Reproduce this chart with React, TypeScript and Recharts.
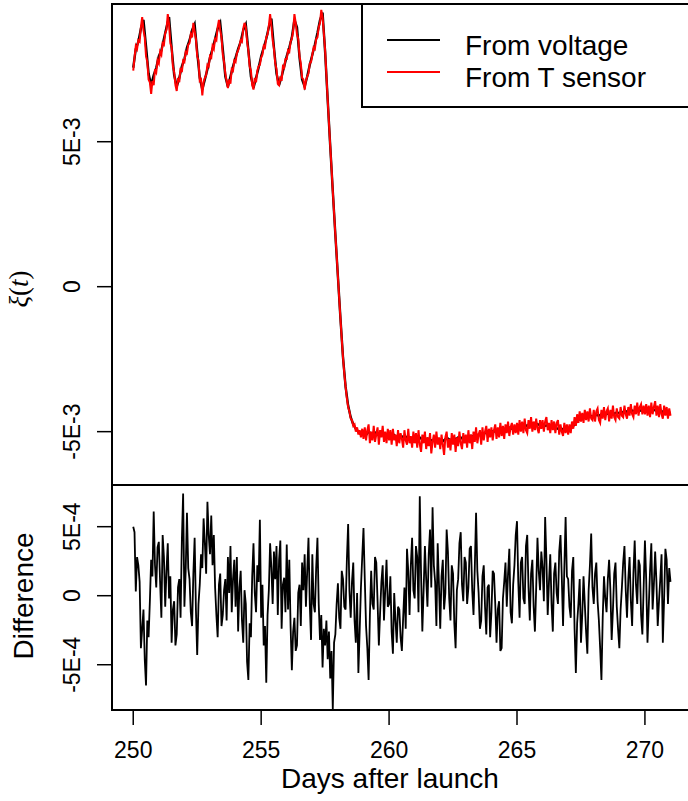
import { LineChart, Line, XAxis, YAxis, Label } from "recharts";

const FONT = "'Liberation Sans', Arial, Helvetica, sans-serif";
const SERIF = "'Liberation Serif', 'DejaVu Serif', serif";

// readings start at day 250; voltage every 0.1 day, T sensor and difference every 0.05 day
const DAY0 = 250;
const COARSE = 0.1;
const FINE = 0.05;

// xi(t) from voltage, units of 1E-3 (0.1 day steps)
const voltage = [
  7.55, 8.2, 8.45, 8.9, 9.2, 8.3, 7.35, 6.95, 7.3, 7.55,
  7.95, 8.15, 8.55, 8.95, 9.3, 8.25, 7.3, 6.9, 7.2, 7.6,
  7.85, 8.25, 8.5, 8.85, 9.05, 8.1, 7.2, 6.8, 7.15, 7.5,
  7.9, 8.2, 8.55, 8.9, 9.1, 8.2, 7.25, 6.9, 7.25, 7.6,
  7.9, 8.2, 8.45, 8.85, 9.05, 8.15, 7.25, 6.85, 7.2, 7.55,
  7.95, 8.25, 8.55, 8.95, 9.25, 8.25, 7.35, 6.95, 7.25, 7.6,
  7.95, 8.25, 8.6, 9.2, 8.95, 7.9, 7.15, 6.9, 7.25, 7.65,
  8.0, 8.35, 8.75, 9.2, 9.45, 8.1, 6.45, 4.85, 3.3, 1.8,
  0.35, -1.1, -2.45, -3.45, -4.1, -4.5, -4.75, -4.9, -5.0, -5.1,
  -5.05, -5.12, -5.0, -5.08, -5.1, -5.02, -5.14, -5.06, -5.1, -5.16,
  -5.1, -5.18, -5.12, -5.2, -5.14, -5.16, -5.22, -5.18, -5.2, -5.24,
  -5.22, -5.26, -5.2, -5.28, -5.3, -5.24, -5.27, -5.32, -5.25, -5.3,
  -5.28, -5.33, -5.26, -5.24, -5.3, -5.22, -5.26, -5.2, -5.24, -5.18,
  -5.2, -5.16, -5.14, -5.18, -5.1, -5.12, -5.06, -5.08, -5.02, -5.05,
  -5.0, -4.98, -5.02, -4.94, -4.96, -4.9, -4.94, -4.86, -4.9, -4.84,
  -4.86, -4.82, -4.8, -4.84, -4.78, -4.8, -4.76, -4.78, -4.74, -4.78,
  -4.76, -4.8, -4.78, -4.82, -4.84, -4.86, -4.9, -4.88, -4.92, -4.9,
  -4.94, -4.88, -4.8, -4.7, -4.6, -4.55, -4.52, -4.5, -4.48, -4.46,
  -4.48, -4.42, -4.45, -4.4, -4.42, -4.38, -4.4, -4.36, -4.38, -4.34,
  -4.36, -4.32, -4.34, -4.3, -4.32, -4.27, -4.3, -4.25, -4.28, -4.26,
  -4.24, -4.27, -4.22, -4.28, -4.25, -4.3, -4.26, -4.32, -4.3, -4.36,
  -4.35,
];

// xi(t) from T sensor, units of 1E-3 (0.05 day steps)
const tSensor = [
  7.45, 7.9, 8.3, 8.2, 8.5, 8.45, 8.95, 9.3, 8.85, 8.6, 7.95, 7.75, 7.15, 7.05, 6.65, 7.1, 6.95, 7.5, 7.4, 7.8,
  7.7, 8.1, 8.0, 8.4, 8.35, 8.75, 8.85, 9.4, 9.05, 8.4, 8.25, 7.6, 7.4, 6.95, 6.75, 7.2, 7.05, 7.55, 7.4, 7.8,
  7.75, 8.1, 8.05, 8.35, 8.4, 8.7, 8.6, 9.1, 8.8, 8.55, 7.95, 7.8, 7.1, 7.15, 6.6, 7.05, 7.2, 7.3, 7.65, 7.6,
  7.95, 7.9, 8.3, 8.2, 8.55, 8.5, 8.95, 9.2, 8.85, 8.6, 8.0, 7.75, 7.35, 7.1, 6.85, 7.15, 7.0, 7.5, 7.45, 7.8,
  7.75, 8.05, 8.15, 8.3, 8.5, 8.45, 8.9, 9.1, 8.95, 8.45, 8.15, 7.6, 7.45, 6.95, 6.8, 7.2, 7.05, 7.45, 7.6, 7.65,
  7.9, 8.0, 8.3, 8.25, 8.6, 8.7, 9.0, 9.4, 9.0, 8.5, 8.2, 7.7, 7.5, 7.0, 6.95, 7.25, 7.1, 7.6, 7.55, 7.85,
  7.85, 8.15, 8.1, 8.45, 8.55, 8.8, 9.4, 9.1, 8.7, 8.55, 7.95, 7.7, 7.2, 7.15, 6.8, 7.1, 7.25, 7.35, 7.7, 7.75,
  8.0, 8.25, 8.2, 8.55, 8.6, 8.95, 9.1, 9.55, 9.3, 8.75, 8.15, 7.3, 6.45, 5.65, 4.85, 4.1, 3.3, 2.55, 1.8, 1.1,
  0.35, -0.4, -1.1, -1.8, -2.45, -3.0, -3.45, -3.85, -4.15, -4.3, -4.55, -4.6, -4.8, -4.75, -5.0, -4.85, -5.1, -4.95, -5.2, -4.9,
  -5.25, -4.85, -5.3, -4.95, -4.75, -5.4, -5.0, -5.3, -4.8, -5.35, -5.1, -4.85, -5.45, -4.95, -5.2, -4.8, -5.35, -5.0, -5.4, -4.9,
  -5.3, -4.95, -5.45, -4.9, -5.3, -5.1, -5.5, -4.95, -5.4, -5.05, -5.25, -5.55, -4.95, -5.3, -5.45, -4.9, -5.4, -5.15, -5.55, -5.0,
  -5.4, -5.05, -5.55, -4.95, -5.45, -5.7, -5.1, -5.4, -5.0, -5.6, -5.2, -5.5, -5.05, -5.75, -5.35, -5.1, -5.55, -5.0, -5.45, -5.2,
  -5.6, -5.1, -5.45, -5.8, -5.2, -5.0, -5.55, -5.25, -5.65, -5.05, -5.45, -5.1, -5.7, -5.2, -5.5, -5.0, -5.4, -5.6, -5.05, -5.4,
  -5.1, -5.55, -4.95, -5.4, -5.1, -5.6, -5.0, -5.35, -4.85, -5.4, -5.1, -4.95, -5.45, -4.85, -5.3, -5.0, -4.8, -5.35, -4.9, -5.2,
  -4.85, -5.3, -4.95, -4.75, -5.25, -4.85, -5.2, -4.7, -5.15, -4.8, -5.25, -4.75, -5.05, -4.65, -5.15, -4.85, -4.7, -5.1, -4.75, -5.05,
  -4.7, -5.1, -4.6, -5.0, -4.65, -5.05, -4.55, -4.95, -5.05, -4.6, -4.9, -4.5, -5.0, -4.65, -4.95, -4.55, -4.9, -5.05, -4.6, -4.9,
  -4.6, -5.0, -4.65, -4.5, -4.95, -4.7, -5.05, -4.6, -4.95, -4.65, -5.05, -4.7, -4.6, -5.1, -4.75, -5.0, -5.15, -4.7, -5.05, -4.75,
  -5.1, -4.75, -5.05, -4.65, -4.9, -4.5, -4.8, -4.4, -4.7, -4.3, -4.65, -4.35, -4.7, -4.25, -4.6, -4.3, -4.65, -4.2, -4.55, -4.6,
  -4.25, -4.65, -4.3, -4.2, -4.6, -4.7, -4.25, -4.55, -4.15, -4.6, -4.3, -4.2, -4.65, -4.25, -4.55, -4.1, -4.5, -4.6, -4.2, -4.5,
  -4.55, -4.15, -4.45, -4.5, -4.1, -4.4, -4.55, -4.15, -4.45, -4.05, -4.4, -4.5, -4.1, -4.4, -4.0, -4.45, -4.15, -4.05, -4.4, -4.1,
  -4.4, -4.05, -4.45, -4.1, -4.5, -4.0, -4.4, -4.15, -3.95, -4.45, -4.1, -4.5, -4.05, -4.4, -4.55, -4.1, -4.45, -4.15, -4.55, -4.2,
  -4.45,
];

// voltage minus T sensor, units of 1E-4 (0.05 day steps)
const difference = [
  5.0, 4.6, 0.3, 2.8, 2.2, 1.0, -3.8, -2.4, -1.0, -4.6, -6.5, -1.8, -3.0, -0.4, 2.6, 1.4, 6.1, 2.2, 0.6, 3.5,
  3.9, 1.0, -1.6, 4.4, 2.8, -0.8, 1.8, 3.8, -0.2, 1.4, -3.4, -1.0, -0.4, -3.6, -2.8, 0.6, 1.2, -1.6, 4.0, 7.4,
  -0.8, 1.8, 6.0, 2.0, 1.2, -1.2, -2.2, 1.6, 4.2, -1.0, -4.3, -0.6, 0.8, 3.0, 2.0, 5.6, 3.8, 1.6, 6.8, 4.4,
  3.0, 5.8, 2.2, 4.4, 0.6, -1.4, -3.0, 0.8, 1.6, -2.2, -1.4, 0.4, 1.2, -1.8, 2.8, 0.2, 3.6, -1.2, 1.2, 2.6,
  -0.8, 2.8, -2.6, 0.6, 1.8, -1.8, -3.4, 0.4, -0.6, -4.8, -6.1, -2.0, -3.0, 1.4, 3.8, 0.2, -1.2, 2.2, 1.0, 5.5,
  -1.6, 0.8, -3.6, -2.2, -6.3, -1.4, 0.4, 3.8, 2.0, -0.6, 3.2, 1.2, 3.6, -1.4, 2.6, 4.0, -2.4, 0.8, 1.3, -1.2,
  3.7, -1.0, 2.6, -2.2, -5.4, -2.6, -1.6, -4.0, -3.6, 0.2, 0.8, -2.2, 2.4, 0.4, 3.0, -0.8, 1.8, 4.2, -0.6, -3.2,
  3.0, -0.6, -1.2, 2.0, 4.2, -0.6, -3.2, -1.4, -5.2, -2.4, -3.6, -1.8, -4.6, -2.6, -6.0, -4.0, -8.2, -3.4, -2.8, -0.6,
  0.9, -1.6, -2.4, 1.8, 1.2, -0.8, -1.0, 2.6, 5.2, 0.4, -1.6, 1.0, 2.4, -1.8, -3.4, 0.2, -5.6, -2.6, 0.6, 2.8,
  4.9, 1.2, -2.2, -3.8, -6.1, -1.4, 1.8, -0.6, -1.0, 2.8, 2.4, -0.4, -3.6, -1.2, 1.0, 2.2, -1.8, 0.4, 2.6, -0.8,
  -0.6, 1.4, -2.6, -4.2, 0.2, -1.8, -3.4, -0.8, -1.0, -3.0, -4.0, -1.6, 0.6, -2.4, 3.4, 1.8, -1.4, 2.2, 4.2, 0.4,
  -0.2, 3.6, 2.8, -1.2, 7.2, 1.6, -2.6, 0.4, 3.6, 1.2, -0.8, 3.0, 4.8, 0.6, 6.4, 2.2, 1.0, -2.2, 3.8, 0.8,
  -2.4, 1.4, 2.6, -1.0, 0.2, 4.8, 3.2, -0.2, -1.8, 2.2, 1.6, -2.0, -3.8, 0.4, 1.2, 3.8, 4.6, 0.8, -0.4, 2.8,
  2.4, -0.6, 0.6, 3.4, 3.6, 0.4, -1.4, 2.0, 6.0, 1.8, 0.2, -2.4, -1.8, 1.4, 2.2, -0.8, -2.8, 0.6, 0.8, -3.0,
  -1.2, 1.8, 1.6, -0.6, -3.4, -1.0, -0.4, -4.0, -3.8, -0.2, 1.0, 2.4, -0.8, 1.6, 3.4, -1.2, -2.0, 0.8, 2.2, 4.4,
  5.4, 1.0, -1.6, 2.4, 2.8, -0.2, -0.6, 3.6, 4.4, 0.6, -1.8, 1.6, 2.6, -0.8, -2.6, 0.6, 4.2, 1.8, 0.4, 3.2,
  2.0, -0.4, 5.7, 2.6, -1.4, 1.0, 3.0, -0.6, -2.6, 1.6, 2.4, 0.2, -0.6, 3.2, 4.4, 1.4, -2.2, 2.0, 5.7, 1.4,
  1.2, -0.8, -1.6, 1.8, 2.8, -2.4, -5.6, -2.0, -0.6, 1.2, -3.4, -1.4, 1.4, -0.6, -2.6, -4.2, 0.4, 2.2, 4.5, 0.6,
  -0.6, 1.6, 2.4, -0.4, -1.8, -3.8, -6.1, -1.6, 1.4, -0.2, -1.2, 1.2, 2.6, 0.4, -3.2, -1.0, 1.6, 2.4, -0.8, -2.4,
  -3.8, -1.0, 0.6, 2.4, 3.6, 0.4, -1.6, 1.2, 2.8, -0.4, -2.2, 1.6, 4.0, 0.8, -0.6, 2.6, 2.2, -1.4, -2.8, 0.6,
  4.0, 1.2, -3.4, -0.8, 1.8, 3.8, -1.0, 0.8, 3.2, 1.0, -2.2, -0.4, 1.2, 3.0, -3.4, -0.2, 3.4, 2.6, -0.6, 2.0,
  1.0,
];

const xTicks = [250, 255, 260, 265, 270];
const xiTicks = [-5, 0, 5];
const diffTicks = [-5, 0, 5];

const X_DOMAIN: [number, number] = [249.17, 271.84];
const XI_DOMAIN: [number, number] = [-6.84, 9.75];
const DIFF_DOMAIN: [number, number] = [-8.28, 8.02];

const dayAt = (i: number, step: number) => Math.round((DAY0 + i * step) * 100) / 100;

const voltageRows = voltage.map((v, i) => ({ day: dayAt(i, COARSE), v }));
const sensorRows = tSensor.map((v, i) => ({ day: dayAt(i, FINE), v }));
const diffRows = difference.map((v, i) => ({ day: dayAt(i, FINE), v }));

const fmtExp = (exp: number) => (v: number) => (v === 0 ? "0" : `${v}E-${exp}`);

function YTick(props: any) {
  const { y, payload, fmt } = props;
  const bx = 80;
  return (
    <text
      x={bx}
      y={y}
      transform={`rotate(-90 ${bx} ${y})`}
      textAnchor="middle"
      fontSize={23}
      fontFamily={FONT}
      fill="#000"
    >
      {fmt(payload.value)}
    </text>
  );
}

function XTick(props: any) {
  const { x, y, payload } = props;
  return (
    <text x={x} y={y + 33} textAnchor="middle" fontSize={23} fontFamily={FONT} fill="#000">
      {payload.value}
    </text>
  );
}

const tickStroke = { stroke: "#000", strokeWidth: 1.5 };

export default function App() {
  return (
    <div
      style={{
        position: "absolute",
        left: 0,
        top: 0,
        width: 688,
        height: 801,
        overflow: "hidden",
        background: "#fff",
      }}
    >
      <div style={{ position: "absolute", left: 0, top: 0 }}>
        <LineChart width={692} height={485} margin={{ top: 4, right: 0, bottom: 0, left: 0 }}>
          <XAxis dataKey="day" type="number" domain={X_DOMAIN} allowDataOverflow hide />
          <YAxis
            type="number"
            domain={XI_DOMAIN}
            ticks={xiTicks}
            allowDataOverflow
            width={112}
            axisLine={false}
            tickLine={tickStroke}
            tickSize={15}
            tick={(p: any) => <YTick {...p} fmt={fmtExp(3)} />}
          >
            <Label
              content={() => (
                <text
                  x={28}
                  y={289}
                  transform="rotate(-90 28 289)"
                  textAnchor="middle"
                  fontSize={27}
                  fontFamily={SERIF}
                  fill="#000"
                >
                  <tspan fontStyle="italic">ξ</tspan>(<tspan fontStyle="italic">t</tspan>)
                </text>
              )}
            />
          </YAxis>
          <Line
            data={voltageRows}
            type="linear"
            dataKey="v"
            name="From voltage"
            stroke="#000"
            strokeWidth={2.4}
            dot={false}
            isAnimationActive={false}
          />
          <Line
            data={sensorRows}
            type="linear"
            dataKey="v"
            name="From T sensor"
            stroke="#ff0000"
            strokeWidth={2}
            dot={false}
            isAnimationActive={false}
          />
        </LineChart>
      </div>

      <div style={{ position: "absolute", left: 0, top: 485 }}>
        <LineChart width={692} height={316} data={diffRows} margin={{ top: 0, right: 0, bottom: 0, left: 0 }}>
          <XAxis
            dataKey="day"
            type="number"
            domain={X_DOMAIN}
            ticks={xTicks}
            allowDataOverflow
            height={91}
            axisLine={false}
            tickLine={tickStroke}
            tickSize={15}
            tickMargin={0}
            tick={(p: any) => <XTick {...p} />}
          >
            <Label
              content={() => (
                <text x={390} y={303} textAnchor="middle" fontSize={28} fontFamily={FONT} fill="#000">
                  Days after launch
                </text>
              )}
            />
          </XAxis>
          <YAxis
            type="number"
            domain={DIFF_DOMAIN}
            ticks={diffTicks}
            allowDataOverflow
            width={112}
            axisLine={false}
            tickLine={tickStroke}
            tickSize={15}
            tick={(p: any) => <YTick {...p} fmt={fmtExp(4)} />}
          >
            <Label
              content={() => (
                <text
                  x={33}
                  y={111}
                  transform="rotate(-90 33 111)"
                  textAnchor="middle"
                  fontSize={28}
                  fontFamily={FONT}
                  fill="#000"
                >
                  Difference
                </text>
              )}
            />
          </YAxis>
          <Line
            type="linear"
            dataKey="v"
            stroke="#000"
            strokeWidth={1.8}
            dot={false}
            isAnimationActive={false}
          />
        </LineChart>
      </div>

      {/* plot frames and legend box */}
      <svg
        width={688}
        height={801}
        style={{ position: "absolute", left: 0, top: 0, pointerEvents: "none" }}
      >
        <rect x={112} y={4} width={620} height={481} fill="none" stroke="#000" strokeWidth={2} />
        <rect x={112} y={485} width={620} height={225} fill="none" stroke="#000" strokeWidth={2} />
        <rect x={362} y={4} width={400} height={103} fill="#fff" stroke="#000" strokeWidth={2} />
        <line x1={387} x2={440} y1={40} y2={40} stroke="#000" strokeWidth={2} />
        <line x1={387} x2={440} y1={72} y2={72} stroke="#ff0000" strokeWidth={2} />
        <text x={465} y={55} fontSize={28} fontFamily={FONT} fill="#000">
          From voltage
        </text>
        <text x={465} y={87} fontSize={28} fontFamily={FONT} fill="#000">
          From T sensor
        </text>
      </svg>
    </div>
  );
}
